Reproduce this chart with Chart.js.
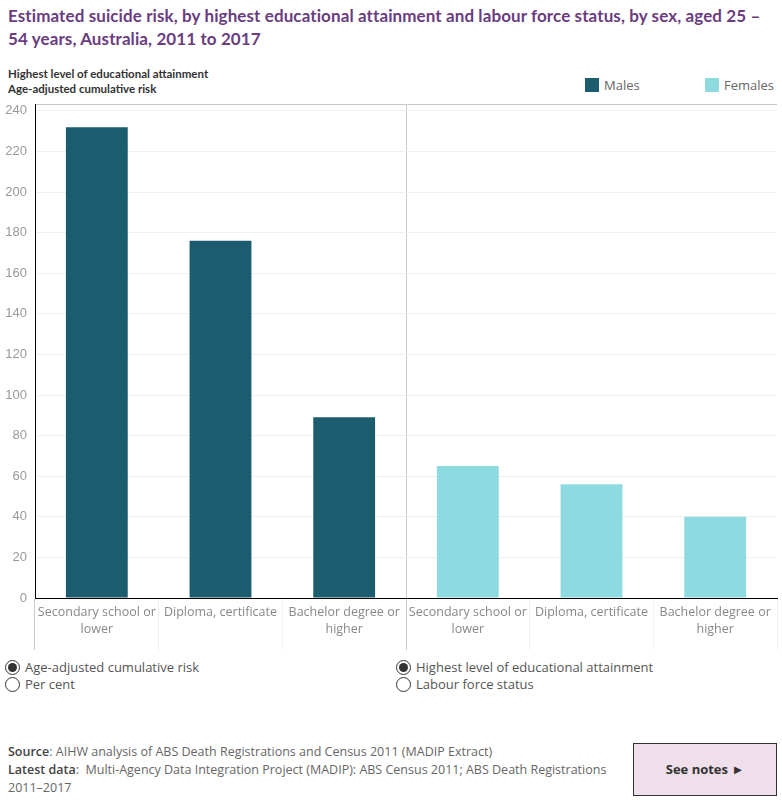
<!DOCTYPE html>
<html>
<head>
<meta charset="utf-8">
<script src="https://cdn.jsdelivr.net/npm/chart.js@4.4.1/dist/chart.umd.min.js"></script>
<style>
  body { margin: 0; width: 782px; height: 800px; position: relative; font-family: "Open Sans", "Noto Sans", sans-serif; background: #fff; overflow: hidden; }
  .title { position: absolute; left: 8px; top: 4px; font-size: 17px; font-weight: bold; color: #6a3d7f; line-height: 23px; font-family: Lato, sans-serif; white-space: nowrap; letter-spacing: 0.1px; }
  .hdr { position: absolute; left: 8px; top: 66px; font-size: 11.5px; font-weight: bold; color: #333; line-height: 15px; font-family: Lato, sans-serif; }
  .leg { position: absolute; top: 76px; font-size: 13px; color: #666; }
  .leg span.sw { display: inline-block; width: 14px; height: 14px; vertical-align: -2px; margin-right: 5px; }
  #wrap { position: absolute; left: 0; top: 89px; width: 782px; height: 561px; }
  .radio { position: absolute; font-size: 13px; color: #555; line-height: 17px; }
  .radio div { position: relative; padding-left: 25px; }
  .radio i { position: absolute; left: 5px; top: 1px; width: 15px; height: 15px; border: 1px solid #333; border-radius: 50%; box-sizing: border-box; }
  .radio i.on::after { content: ""; position: absolute; left: 2px; top: 2px; width: 9px; height: 9px; border-radius: 50%; background: #333; }
  .src { position: absolute; left: 8px; top: 743px; font-size: 12.5px; color: #666; line-height: 18px; width: 610px; }
  .src b { color: #444; font-weight: 600; }
  .notes { position: absolute; left: 633px; top: 743px; width: 142px; height: 51px; background: #eedfea; border: 1px solid #333; font-size: 13px; font-weight: bold; color: #333; text-align: center; line-height: 51px; }
</style>
</head>
<body>
<div class="title">Estimated suicide risk, by highest educational attainment and labour force status, by sex, aged 25 –<br>54 years, Australia, 2011 to 2017</div>
<div class="hdr">Highest level of educational attainment<br>Age-adjusted cumulative risk</div>
<div class="leg" style="left:585px"><span class="sw" style="background:#1b5d6f"></span>Males</div>
<div class="leg" style="left:705px"><span class="sw" style="background:#8ddbe0"></span>Females</div>
<div id="wrap"><canvas id="chart"></canvas></div>
<div class="radio" style="left:0;top:659px">
  <div><i class="on"></i>Age-adjusted cumulative risk</div>
  <div><i></i>Per cent</div>
</div>
<div class="radio" style="left:391px;top:659px">
  <div><i class="on"></i>Highest level of educational attainment</div>
  <div><i></i>Labour force status</div>
</div>
<div class="src"><b>Source</b>: AIHW analysis of ABS Death Registrations and Census 2011 (MADIP Extract)<br><b>Latest data</b>:&nbsp; Multi-Agency Data Integration Project (MADIP): ABS Census 2011; ABS Death Registrations 2011–2017</div>
<div class="notes">See notes ►</div>
<script>
const categories = [
  ['Secondary school or', 'lower'], ['Diploma, certificate'], ['Bachelor degree or', 'higher'],
  ['Secondary school or', 'lower'], ['Diploma, certificate'], ['Bachelor degree or', 'higher']
];
const males = [232, 176, 89, null, null, null];
const females = [null, null, null, 65, 56, 40];
const yTicks = [0, 20, 40, 60, 80, 100, 120, 140, 160, 180, 200, 220, 240];
const yTop = 243;

new Chart(document.getElementById('chart'), {
  type: 'bar',
  data: {
    labels: categories,
    datasets: [
      { label: 'Males', data: males, backgroundColor: '#1b5d6f' },
      { label: 'Females', data: females, backgroundColor: '#8ddbe0' }
    ]
  },
  options: {
    responsive: true,
    maintainAspectRatio: false,
    animation: false,
    grouped: false,
    categoryPercentage: 1,
    barPercentage: 0.5,
    layout: { padding: { top: 0, right: 5, left: 0, bottom: 0 } },
    plugins: { legend: { display: false }, tooltip: { enabled: false } },
    scales: {
      x: {
        grid: {
          offset: true,
          color: ctx => (ctx.index === 3 || ctx.index === 6) ? '#c8c8c8' : 'rgba(0,0,0,0)',
          tickColor: ctx => (ctx.index === 0 || ctx.index === 3 || ctx.index === 6) ? '#c8c8c8' : '#f0f0f0',
          tickLength: 52
        },
        border: { color: '#000', width: 1 },
        ticks: { color: '#888', font: { family: 'Open Sans', size: 12.5, lineHeight: 1.35 }, padding: -46, maxRotation: 0, autoSkip: false },
        afterFit: s => { s.height = 52; }
      },
      y: {
        min: 0,
        max: yTop,
        afterBuildTicks: s => { s.ticks = yTicks.map(v => ({ value: v })).concat([{ value: yTop }]); },
        grid: {
          color: ctx => ctx.tick && ctx.tick.value === yTop ? '#c8c8c8' : '#f0f0f0',
          drawTicks: false
        },
        border: { color: '#000', width: 1 },
        ticks: {
          color: '#999',
          font: { family: 'Liberation Sans', size: 13 },
          padding: 8,
          callback: v => yTicks.includes(v) ? v : ''
        },
        afterFit: s => { s.width = 35; }
      }
    }
  }
});
</script>
</body>
</html>
